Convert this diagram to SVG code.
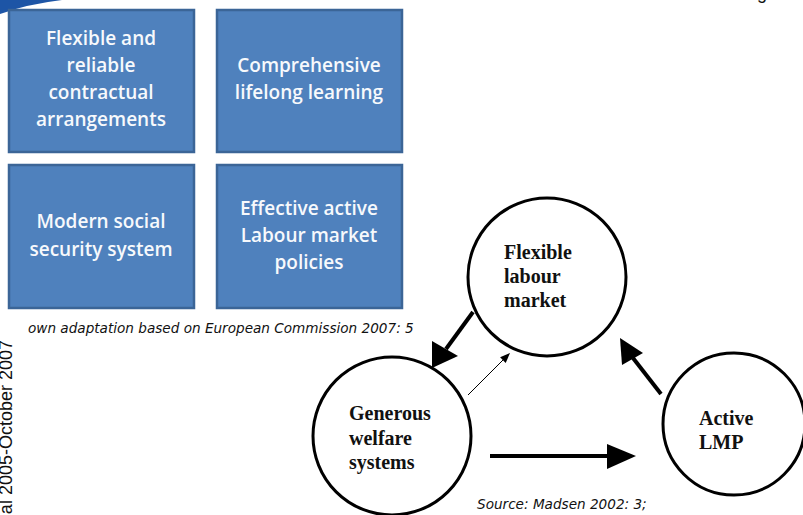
<svg xmlns="http://www.w3.org/2000/svg" width="803" height="515" viewBox="0 0 803 515">
  <style>
    .box { fill: #4f81bd; stroke: #3b6597; stroke-width: 2.5; }
    .boxtext { font-family: "Open Sans", "Liberation Sans", sans-serif; font-weight: 600; font-size: 19px; fill: #f7f9fc; text-anchor: middle; }
    .circle { fill: #ffffff; stroke: #000000; stroke-width: 3; }
    .circtext { font-family: "Liberation Serif", "Times New Roman", serif; font-weight: bold; font-size: 20px; fill: #111111; }
    .note { font-family: "DejaVu Sans", Verdana, sans-serif; font-style: italic; font-size: 13.6px; fill: #111111; }
    .side { font-family: "Liberation Sans", Arial, sans-serif; font-size: 18px; fill: #111111; }
    .thick { stroke: #000000; stroke-width: 4; fill: none; }
    .thin { stroke: #000000; stroke-width: 1; fill: none; }
    .head { fill: #000000; }
  </style>

  <rect x="0" y="0" width="803" height="515" fill="#ffffff"/>

  <!-- header swoosh and clipped heading letter -->
  <path d="M0,0 L62,0 Q28,4 0,14 Z" fill="#1d55a6"/>
  <text x="757" y="-1" class="side" font-size="22">g</text>

  <!-- vertical footer text along the left margin -->
  <text class="side" text-anchor="end" transform="translate(12,340) rotate(-90)">al 2005-October 2007</text>

  <!-- flexicurity components -->
  <g id="box-contractual">
    <rect class="box" x="9" y="10" width="185" height="142"/>
    <text class="boxtext" x="101" y="45">Flexible and</text>
    <text class="boxtext" x="101" y="72">reliable</text>
    <text class="boxtext" x="101" y="99">contractual</text>
    <text class="boxtext" x="101" y="126">arrangements</text>
  </g>
  <g id="box-learning">
    <rect class="box" x="217" y="10" width="185" height="142"/>
    <text class="boxtext" x="309" y="72">Comprehensive</text>
    <text class="boxtext" x="309" y="99">lifelong learning</text>
  </g>
  <g id="box-social">
    <rect class="box" x="9" y="165" width="185" height="143"/>
    <text class="boxtext" x="101" y="228">Modern social</text>
    <text class="boxtext" x="101" y="256">security system</text>
  </g>
  <g id="box-almp">
    <rect class="box" x="217" y="165" width="185" height="143"/>
    <text class="boxtext" x="309" y="215">Effective active</text>
    <text class="boxtext" x="309" y="242">Labour market</text>
    <text class="boxtext" x="309" y="269">policies</text>
  </g>

  <text class="note" x="28" y="333">own adaptation based on European Commission 2007: 5</text>

  <!-- golden triangle -->
  <g id="node-flexible">
    <circle class="circle" cx="547" cy="277" r="79"/>
    <text class="circtext" x="504" y="259">Flexible</text>
    <text class="circtext" x="504" y="283">labour</text>
    <text class="circtext" x="504" y="307">market</text>
  </g>
  <g id="node-welfare">
    <circle class="circle" cx="392" cy="436" r="79"/>
    <text class="circtext" x="349" y="420">Generous</text>
    <text class="circtext" x="349" y="445">welfare</text>
    <text class="circtext" x="349" y="469">systems</text>
  </g>
  <g id="node-lmp">
    <circle class="circle" cx="734" cy="424" r="71"/>
    <text class="circtext" x="699" y="425">Active</text>
    <text class="circtext" x="699" y="449">LMP</text>
  </g>

  <g id="connectors">
    <line class="thick" x1="473" y1="312" x2="446" y2="349"/>
    <polygon class="head" points="432,368 432,341 458,356"/>

    <line class="thin" x1="468" y1="395" x2="505" y2="358"/>
    <polygon class="head" points="510,353 505.7,362.9 500.1,357.3"/>

    <line class="thick" x1="490" y1="456" x2="612" y2="456"/>
    <polygon class="head" points="636,456 607,444 607,469"/>

    <line class="thick" x1="661" y1="394" x2="633" y2="358"/>
    <polygon class="head" points="620,338 622,365 643,353"/>
  </g>

  <text class="note" x="477" y="509">Source: Madsen 2002: 3;</text>
</svg>
